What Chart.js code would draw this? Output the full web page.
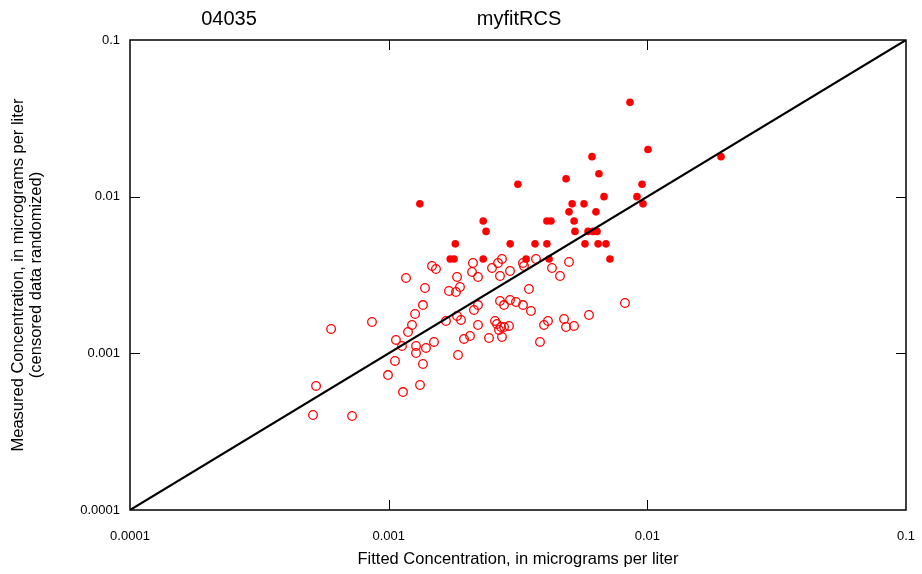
<!DOCTYPE html>
<html lang="en">
<head>
  <meta charset="UTF-8">
  <title>04035 myfitRCS</title>
  <style>
    html, body { margin: 0; padding: 0; background: #fff; }
    .box { width: 922px; height: 574px; }
  </style>
</head>
<body>
<div class="box">
  <canvas id="fitChart" width="922" height="574"></canvas>
</div>

<script src="https://cdn.jsdelivr.net/npm/chart.js"></script>

<script>
  // decade ticks shared by both log axes
  const decades = [0.0001, 0.001, 0.01, 0.1];
  const tickLabels = ['0.0001', '0.001', '0.01', '0.1'];

  // detected samples (filled dots)
  const detectedX = [0.00132, 0.00232, 0.00238, 0.00181, 0.00295, 0.00368, 0.00409, 0.00409, 0.00424, 0.00173,
    0.00179, 0.00232, 0.00340, 0.00417, 0.00316, 0.00485, 0.00611, 0.00857, 0.01006, 0.01927,
    0.00650, 0.00954, 0.00512, 0.00569, 0.00680, 0.00912, 0.00962, 0.00498, 0.00633, 0.00521,
    0.00525, 0.00590, 0.00617, 0.00639, 0.00574, 0.00645, 0.00692, 0.00717];
  const detectedY = [0.009, 0.007, 0.006, 0.005, 0.005, 0.005, 0.005, 0.007, 0.007, 0.004,
    0.004, 0.004, 0.004, 0.004, 0.012, 0.013, 0.018, 0.04, 0.02, 0.018,
    0.014, 0.012, 0.009, 0.009, 0.01, 0.01, 0.009, 0.008, 0.008, 0.007,
    0.006, 0.006, 0.006, 0.006, 0.005, 0.005, 0.005, 0.004];

  // censored samples, randomized (open circles)
  const censoredX = [0.000599, 0.000862, 0.001167, 0.001471, 0.001524, 0.001382, 0.001357, 0.001265, 0.001231, 0.001188,
    0.001067, 0.001126, 0.001276, 0.001276, 0.001394, 0.001497, 0.001666, 0.001058, 0.001357, 0.000994,
    0.001322, 0.001136, 0.000524, 0.000510, 0.000722, 0.001711, 0.001821, 0.001887, 0.001838, 0.002118,
    0.002100, 0.002215, 0.002509, 0.002647, 0.002742, 0.002694, 0.002945, 0.003306, 0.003336, 0.003712,
    0.004280, 0.004597, 0.004980, 0.003487, 0.001838, 0.001904, 0.002137, 0.002215, 0.002215, 0.002694,
    0.002792, 0.002945, 0.003107, 0.003306, 0.003550, 0.002577, 0.002623, 0.002718, 0.002670, 0.002742,
    0.002792, 0.002919, 0.001955, 0.002063, 0.002443, 0.001854, 0.003986, 0.004130, 0.003846, 0.004764,
    0.004849, 0.005207, 0.005949, 0.008197];
  const censoredY = [0.00143, 0.001585, 0.003025, 0.003609, 0.003454, 0.002612, 0.002034, 0.001783, 0.001517, 0.001368,
    0.001217, 0.001114, 0.001114, 0.001005, 0.001082, 0.001182, 0.001608, 0.000894, 0.000855, 0.000727,
    0.000628, 0.000566, 0.000619, 0.000404, 0.000398, 0.0025, 0.002464, 0.002651, 0.00307, 0.003773,
    0.003304, 0.00307, 0.003505, 0.003773, 0.004, 0.003115, 0.003353, 0.003773, 0.003609, 0.004,
    0.003505, 0.003115, 0.00383, 0.002575, 0.001731, 0.001632, 0.001891, 0.002034, 0.001517, 0.002158,
    0.002034, 0.00219, 0.002126, 0.002034, 0.001863, 0.001608, 0.001539, 0.001473, 0.001409, 0.001271,
    0.001473, 0.001495, 0.001235, 0.00129, 0.001253, 0.000976, 0.001517, 0.001608, 0.001182, 0.001656,
    0.001473, 0.001495, 0.001757, 0.002095];

  const font = 'Liberation Sans, Arial, sans-serif';

  function toPoints(xs, ys) {
    return xs.map((x, i) => ({ x: x, y: ys[i] }));
  }

  // box round the plot with inward ticks, plus the two top titles
  const framePlugin = {
    id: 'frame',
    afterDatasetsDraw(chart) {
      const ctx = chart.ctx;
      const a = chart.chartArea;
      const xs = chart.scales.x, ys = chart.scales.y;
      ctx.save();
      ctx.strokeStyle = '#000';
      ctx.lineWidth = 1.5;
      ctx.strokeRect(a.left, a.top, a.right - a.left, a.bottom - a.top);
      ctx.lineWidth = 1;
      ctx.beginPath();
      decades.slice(1, -1).forEach(v => {
        const px = Math.round(xs.getPixelForValue(v)) + 0.5;
        ctx.moveTo(px, a.bottom); ctx.lineTo(px, a.bottom - 10);
        ctx.moveTo(px, a.top); ctx.lineTo(px, a.top + 10);
        const py = Math.round(ys.getPixelForValue(v)) + 0.5;
        ctx.moveTo(a.left, py); ctx.lineTo(a.left + 10, py);
        ctx.moveTo(a.right, py); ctx.lineTo(a.right - 10, py);
      });
      ctx.stroke();
      ctx.restore();
    },
    afterDraw(chart) {
      const ctx = chart.ctx;
      ctx.save();
      ctx.fillStyle = '#000';
      ctx.font = '20px ' + font;
      ctx.textAlign = 'center';
      ctx.textBaseline = 'alphabetic';
      ctx.fillText('04035', 229, 25);
      ctx.fillText('myfitRCS', 519, 25);
      ctx.restore();
    }
  };

  const ctx = document.getElementById('fitChart').getContext('2d');
  new Chart(ctx, {
    type: 'scatter',
    data: {
      datasets: [
        {
          type: 'line',
          label: '1:1',
          data: [{ x: decades[0], y: decades[0] }, { x: decades[3], y: decades[3] }],
          borderColor: '#000',
          borderWidth: 2.2,
          pointRadius: 0,
          order: 0
        },
        {
          label: 'Detected',
          data: toPoints(detectedX, detectedY),
          backgroundColor: '#ff0000',
          borderColor: '#ff0000',
          borderWidth: 0,
          pointRadius: 3.8,
          order: 1
        },
        {
          label: 'Censored',
          data: toPoints(censoredX, censoredY),
          backgroundColor: 'rgba(255,255,255,0)',
          borderColor: '#ff0000',
          borderWidth: 1.3,
          pointRadius: 4.3,
          order: 2
        }
      ]
    },
    options: {
      responsive: false,
      animation: false,
      layout: { padding: { top: 40, right: 16, left: 0, bottom: 0 } },
      plugins: {
        legend: { display: false },
        tooltip: { enabled: false }
      },
      scales: {
        x: {
          type: 'logarithmic',
          min: decades[0],
          max: decades[3],
          afterBuildTicks: s => { s.ticks = decades.map(v => ({ value: v })); },
          afterFit: s => { s.height = 64; s.paddingRight = 0; s.paddingLeft = 0; },
          grid: { display: false, drawTicks: false },
          border: { display: false },
          ticks: {
            autoSkip: false,
            maxRotation: 0,
            padding: 19,
            color: '#000',
            font: { family: font, size: 13 },
            callback: (v, i) => tickLabels[i]
          },
          title: {
            display: true,
            text: 'Fitted Concentration, in micrograms per liter',
            color: '#000',
            font: { family: font, size: 16.5 },
            padding: { top: 0, bottom: 5 }
          }
        },
        y: {
          type: 'logarithmic',
          min: decades[0],
          max: decades[3],
          afterBuildTicks: s => { s.ticks = decades.map(v => ({ value: v })); },
          afterFit: s => { s.width = 130; s.paddingTop = 0; s.paddingBottom = 0; },
          grid: { display: false, drawTicks: false },
          border: { display: false },
          ticks: {
            autoSkip: false,
            padding: 10,
            color: '#000',
            font: { family: font, size: 13 },
            callback: (v, i) => tickLabels[i]
          },
          title: {
            display: true,
            text: ['Measured Concentration, in micrograms per liter', '(censored data randomized)'],
            color: '#000',
            font: { family: font, size: 16.5, lineHeight: 1.12 },
            padding: { top: 9, bottom: 0 }
          }
        }
      }
    },
    plugins: [framePlugin]
  });
</script>
</body>
</html>
